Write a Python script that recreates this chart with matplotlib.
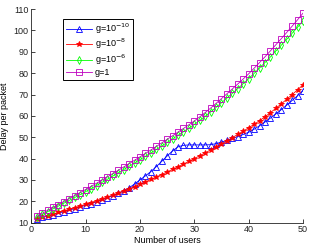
import numpy as np
import matplotlib
matplotlib.use('Agg')
import matplotlib.pyplot as plt

plt.rcParams['font.family'] = ['Liberation Sans', 'DejaVu Sans']

users = np.arange(1, 51)

# g = 1e-10
delay_g10 = [11.80, 12.45, 13.10, 13.75, 14.45, 15.15, 15.85, 16.60, 17.35, 18.15,
             18.95, 19.80, 20.70, 21.65, 22.65, 23.75, 24.95, 26.30, 28.10, 30.00,
             31.90, 33.90, 36.20, 38.70, 41.20, 43.60, 45.50, 46.20, 46.40, 46.40,
             46.40, 46.40, 46.50, 47.00, 47.70, 48.50, 49.40, 50.30, 51.30, 52.30,
             53.75, 55.35, 57.10, 58.95, 60.90, 62.90, 65.00, 67.20, 69.45, 71.80]
# g = 1e-8
delay_g8 = [11.90, 12.60, 13.31, 14.03, 14.76, 15.50, 16.25, 17.02, 17.80, 18.60,
            19.42, 20.26, 21.12, 22.01, 22.93, 23.88, 24.86, 25.87, 26.91, 28.00,
            29.10, 30.22, 31.36, 32.53, 33.72, 34.93, 36.16, 37.42, 38.70, 40.00,
            41.32, 42.67, 44.04, 45.44, 46.87, 48.32, 49.80, 51.31, 52.84, 54.40,
            56.02, 57.74, 59.56, 61.48, 63.50, 65.60, 67.75, 69.95, 72.20, 74.50]
# g = 1e-6
delay_g6 = [12.50, 13.81, 15.12, 16.45, 17.77, 19.11, 20.44, 21.78, 23.14, 24.50,
            25.92, 27.36, 28.82, 30.30, 31.80, 33.31, 34.84, 36.38, 37.93, 39.50,
            41.07, 42.66, 44.27, 45.90, 47.55, 49.21, 50.88, 52.56, 54.25, 55.99,
            57.87, 59.80, 61.83, 63.96, 66.14, 68.32, 70.53, 72.78, 75.06, 77.39,
            79.86, 82.38, 84.95, 87.60, 90.34, 93.06, 95.83, 98.65, 101.52, 104.49]
# g = 1
delay_g1 = [13.00, 14.36, 15.73, 17.11, 18.49, 19.88, 21.27, 22.67, 24.08, 25.50,
            26.95, 28.42, 29.91, 31.42, 32.95, 34.49, 36.05, 37.62, 39.20, 40.80,
            42.40, 44.02, 45.66, 47.32, 49.00, 50.69, 52.39, 54.10, 55.82, 57.59,
            59.54, 61.54, 63.64, 65.84, 68.09, 70.34, 72.62, 74.94, 77.29, 79.69,
            82.29, 84.94, 87.64, 90.42, 93.29, 96.14, 99.04, 101.99, 104.99, 108.09]

fig = plt.figure(figsize=(3.13, 2.46), dpi=100)
ax = fig.add_axes([0.100, 0.095, 0.868, 0.868])

ms = 4.2
lw = 0.6
ax.plot(users, delay_g10, color='b', marker='^', mfc='none', ms=ms, mew=0.6, lw=lw, label='g=10$^{-10}$')
ax.plot(users, delay_g8, color='r', marker='*', ms=ms, mew=0.6, lw=lw, label='g=10$^{-8}$')
ax.plot(users, delay_g6, color='#00ff00', marker='d', mfc='none', ms=ms, mew=0.6, lw=lw, label='g=10$^{-6}$')
ax.plot(users, delay_g1, color='m', marker='s', mfc='none', ms=ms, mew=0.6, lw=lw, label='g=1')

ax.set_xlim(0, 50)
ax.set_ylim(10, 110)
ax.set_xticks([0, 10, 20, 30, 40, 50])
ax.set_yticks(np.arange(10, 111, 10))
ax.tick_params(direction='in', length=3, width=0.6, labelsize=6.5, pad=2, colors='#222222')
ax.spines['top'].set_visible(False)
ax.spines['right'].set_visible(False)
for s in ['left', 'bottom']:
    ax.spines[s].set_linewidth(0.6)
    ax.spines[s].set_color('#222222')

ax.set_xlabel('Number of users', fontsize=6.5, labelpad=1)
ax.set_ylabel('Delay per packet', fontsize=6.5, labelpad=3)

leg = ax.legend(loc='upper left', bbox_to_anchor=(0.117, 0.955), fontsize=6.5,
                fancybox=False, edgecolor='black', framealpha=1,
                handlelength=2.9, handletextpad=0.3, labelspacing=0.12,
                borderpad=0.3, borderaxespad=0)
leg.get_frame().set_linewidth(0.7)

plt.savefig('out.png', dpi=100)
